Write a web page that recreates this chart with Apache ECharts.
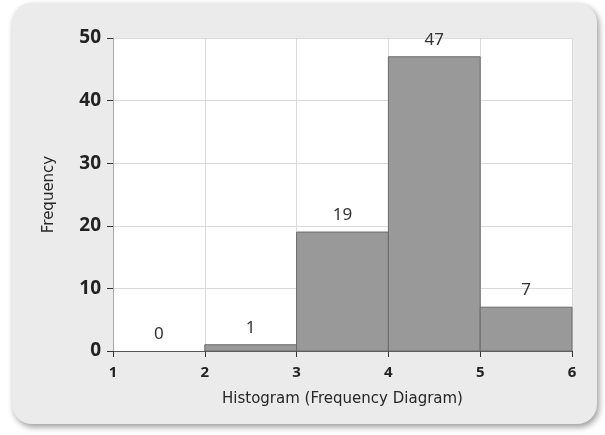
<!DOCTYPE html>
<html>
<head>
<meta charset="utf-8">
<script src="https://cdn.jsdelivr.net/npm/echarts@6/dist/echarts.min.js"></script>
<style>
html,body{margin:0;padding:0;background:#fff;}
#c{width:605px;height:435px;}
</style>
</head>
<body>
<div id="c"></div>
<script>
const binStarts = [1, 2, 3, 4, 5];
const binEnds = [2, 3, 4, 5, 6];
const frequencies = [0, 1, 19, 47, 7];
const xTitle = 'Histogram (Frequency Diagram)';
const yTitle = 'Frequency';

const chart = echarts.init(document.getElementById('c'), null, {renderer: 'canvas'});
const font = '"Noto Sans", "Open Sans", sans-serif';
const titleFont = '"DejaVu Sans", sans-serif';
const data = binStarts.map((s, i) => [s, binEnds[i], frequencies[i]]);

chart.setOption({
  animation: false,
  backgroundColor: '#ffffff',
  graphic: [{
    type: 'rect',
    z: -10,
    shape: {x: 12, y: 3, width: 585, height: 421, r: 20},
    style: {fill: '#ebebeb', shadowBlur: 6, shadowOffsetX: 2, shadowOffsetY: 3, shadowColor: 'rgba(0,0,0,0.4)'}
  }],
  grid: {left: 113, right: 33, top: 38, bottom: 84, show: true, backgroundColor: '#ffffff', borderWidth: 0, containLabel: false},
  xAxis: {
    type: 'value', min: 1, max: 6, interval: 1,
    name: xTitle, nameLocation: 'middle', nameGap: 41,
    nameTextStyle: {fontFamily: titleFont, fontSize: 15, color: '#262626', fontWeight: 'normal'},
    axisLine: {show: true, lineStyle: {color: '#555', width: 1}},
    axisTick: {show: true, length: 6, lineStyle: {color: '#333'}},
    axisLabel: {fontFamily: font, fontSize: 15, fontWeight: 'bold', color: '#222', margin: 14},
    splitLine: {show: true, lineStyle: {color: '#dadada', width: 1}}
  },
  yAxis: {
    type: 'value', min: 0, max: 50, interval: 10,
    name: yTitle, nameLocation: 'middle', nameGap: 56, nameRotate: 90,
    nameTextStyle: {fontFamily: titleFont, fontSize: 15, color: '#262626'},
    axisLine: {show: true, lineStyle: {color: '#aaa', width: 1}},
    axisTick: {show: true, length: 6, lineStyle: {color: '#333'}},
    axisLabel: {fontFamily: font, fontSize: 19, fontWeight: 'bold', color: '#222', margin: 12},
    splitLine: {show: true, lineStyle: {color: '#dadada', width: 1}}
  },
  series: [{
    type: 'custom',
    data: data,
    encode: {x: [0, 1], y: 2},
    renderItem: function (params, api) {
      const s = api.value(0), e = api.value(1), v = api.value(2);
      const p0 = api.coord([s, v]);
      const p1 = api.coord([e, 0]);
      const mid = api.coord([(s + e) / 2, v]);
      const children = [];
      if (v > 0) {
        children.push({
          type: 'rect',
          shape: {x: p0[0], y: p0[1], width: p1[0] - p0[0], height: p1[1] - p0[1]},
          style: {fill: '#999999', stroke: '#6a6a6a', lineWidth: 1}
        });
      }
      children.push({
        type: 'text',
        style: {text: String(v), x: mid[0], y: mid[1] - 17, align: 'center', verticalAlign: 'middle',
                fontFamily: font, fontSize: 17, fill: '#333'}
      });
      return {type: 'group', children: children};
    }
  }]
});
</script>
</body>
</html>
